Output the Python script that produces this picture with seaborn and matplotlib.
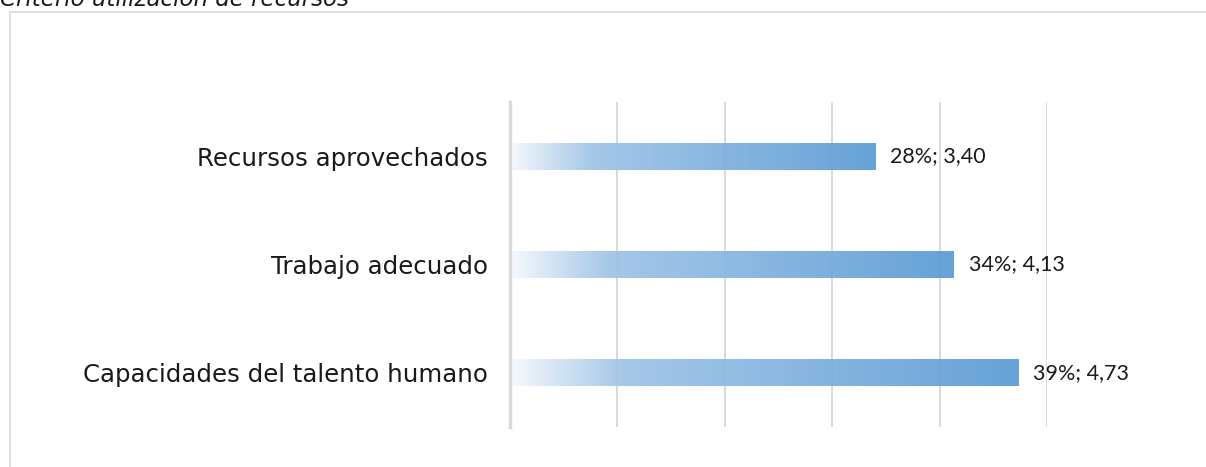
import numpy as np
import pandas as pd
import matplotlib
matplotlib.use("Agg")
import matplotlib.pyplot as plt
from matplotlib.colors import LinearSegmentedColormap
from matplotlib.patches import Rectangle
import seaborn as sns

# Chart data
categories = ["Recursos aprovechados", "Trabajo adecuado", "Capacidades del talento humano"]
values = [3.40, 4.13, 4.73]
shares = [28, 34, 39]
title = "Criterio utilización de recursos"

sns.set_theme(style="white")
plt.rcParams["font.family"] = ["DejaVu Sans"]

W, H = 1206, 467
fig = plt.figure(figsize=(W / 100, H / 100), dpi=100)
ax = fig.add_axes([510 / W, 1 - 427 / H, (1047 - 510) / W, (427 - 102) / H])

df = pd.DataFrame({"categoria": categories, "valor": values})
sns.barplot(data=df, y="categoria", x="valor", orient="h", width=0.25,
            facecolor="none", edgecolor="none", ax=ax)

# Gradient fill per bar: pale at the base, full blue at the tip
grad = LinearSegmentedColormap.from_list(
    "fade", [(0.0, "#f6f9fd"), (0.22, "#9fc4e7"), (1.0, "#5b9bd5")])
ramp = np.linspace(0, 1, 512).reshape(1, -1)
for patch in ax.patches:
    x0, y0 = patch.get_x(), patch.get_y()
    w, h = patch.get_width(), patch.get_height()
    im = ax.imshow(ramp, cmap=grad, aspect="auto", extent=[x0, x0 + w, y0 + h, y0],
                   zorder=2, alpha=0.93, interpolation="bilinear")
    im.set_clip_path(patch)

ax.set_xlim(0, 5)
ax.set_ylim(2.5, -0.5)
ax.set_xticks(np.arange(0, 6, 1))
ax.set_xticklabels([])
ax.tick_params(axis="x", length=0)
ax.tick_params(axis="y", length=0, pad=16)
ax.grid(axis="x", color="#d0d0d0", linewidth=1.1, zorder=0)
ax.grid(axis="y", visible=False)
ax.set_axisbelow(True)
for side in ["top", "right", "bottom"]:
    ax.spines[side].set_visible(False)
ax.spines["left"].set_color("#d9d9d9")
ax.spines["left"].set_linewidth(2.4)
ax.set_xlabel("")
ax.set_ylabel("")
for lbl in ax.get_yticklabels():
    lbl.set_fontsize(17.6)
    lbl.set_color("#1a1a1a")

# Value labels next to each bar
for i, (v, s) in enumerate(zip(values, shares)):
    ax.annotate(f"{s}%; {v:.2f}".replace(".", ","), xy=(v, i), xytext=(11, 0),
                textcoords="offset points", va="center", ha="left",
                fontsize=15.5, color="#1a1a1a", family=["Lato", "DejaVu Sans"])

# Chart frame and title
fig.patches.append(Rectangle((10 / W, -0.05), 1.1, 1 - 12 / H + 0.05,
                             transform=fig.transFigure, fill=False,
                             edgecolor="#d9d9d9", linewidth=1.2))
fig.text(0, 1 - 6 / H, title, ha="left", va="baseline", fontsize=16.5,
         style="italic", color="#1a1a1a")

fig.savefig("out.png", dpi=100)
